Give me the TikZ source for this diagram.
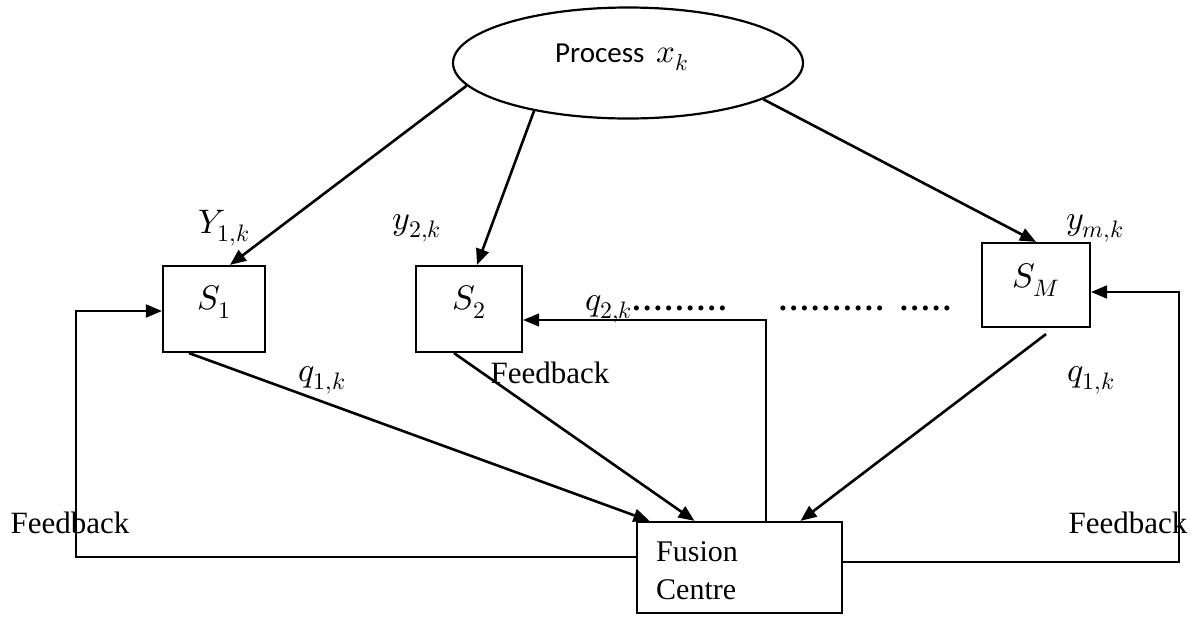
\documentclass[tikz,border=0pt]{standalone}
\usepackage{fontspec}
\usepackage{unicode-math}
\setmainfont{Liberation Serif}
\setmathfont{Latin Modern Math}
\newfontfamily\carlito{Carlito}
\usetikzlibrary{shapes.geometric,arrows.meta,calc}
\newcommand{\pd}{\textbf{.}\kern3pt}
\begin{document}
\begin{tikzpicture}[x=1pt,y=-1pt,
  arr/.style={-{Triangle[length=16pt,width=13pt]}, line width=2.6pt},
  fb/.style={-{Triangle[length=16pt,width=13pt]}, line width=2pt},
  box/.style={draw, line width=2.2pt, inner sep=0pt},
  lbl/.style={font=\fontsize{31}{34}\selectfont, inner sep=0pt},
  mlbl/.style={font=\fontsize{34}{36}\selectfont, inner sep=0pt}]
\useasboundingbox (0,0) rectangle (1195,619);
% nodes
\node[ellipse, draw, line width=2.2pt, minimum width=350pt, minimum height=111pt, inner sep=0pt] (proc) at (628,63) {};
\node[font=\carlito\fontsize{29}{31}\selectfont, inner sep=0pt, anchor=west] (ptxt) at (555,57) {Process\hspace{12pt}{\fontsize{33}{35}\selectfont$x_k$}};
\node[box, minimum width=102pt, minimum height=86pt] (s1) at (214,309) {};
\node[box, minimum width=106pt, minimum height=86pt] (s2) at (469,309) {};
\node[box, minimum width=108pt, minimum height=84pt] (sm) at (1036,285) {};
\node[box, minimum width=205pt, minimum height=91pt] (fus) at (739.5,567.5) {};
\node[mlbl] (s1t) at (214,302) {$S_1$};
\node[mlbl] (s2t) at (469,302) {$S_2$};
\node[mlbl] (smt) at (1036,280) {$S_M$};
\node[lbl, align=left, anchor=west, font=\fontsize{30}{38}\selectfont] (fust) at (656,571) {Fusion\\Centre};
% sensor arrows
\draw[arr] (proc.188) -- ([xshift=16pt]s1.north);
\draw[arr] (proc.207) -- ([xshift=8pt]s2.north);
\draw[arr] (proc.-15) -- (sm.north);
\draw[arr] ([xshift=-25pt]s1.south) -- ([xshift=-90pt]fus.north);
\draw[arr] ([xshift=-15pt]s2.south) -- ([xshift=-45pt]fus.north);
\draw[arr] ([xshift=10pt,yshift=-6pt]sm.south) -- ([xshift=61pt]fus.north);
% feedback lines
\coordinate (cl) at (76,311);
\coordinate (cr) at (1179,292);
\coordinate (cm) at (766,320);
\draw[fb] ([yshift=10.5pt]fus.west) -| (cl) -- (cl -| s1.west);
\draw[fb] ([yshift=5.5pt]fus.east) -| (cr) -- (cr -| sm.east);
\draw[fb, line width=1.4pt] (cm |- fus.north) -- (cm) -- (cm -| s2.east);
% labels
\node[mlbl] (ly1) at (224,228) {$Y_{1,k}$};
\node[mlbl] (ly2) at (417,228) {$y_{2,k}$};
\node[mlbl] (lym) at (1095,228) {$y_{m,k}$};
\node[mlbl] (lq1) at (322,380) {$q_{1,k}$};
\node[mlbl] (lqm) at (1091,380) {$q_{1,k}$};
\node[mlbl, anchor=base west] (lq2) at (585,310) {$q_{2,k}$};
\node[lbl, anchor=base west] (d1) at (lq2.base east) {\pd\pd\pd\pd\pd\pd\pd\pd\pd};
\node[lbl, anchor=base west] (d2) at (779,310) {\pd\pd\pd\pd\pd\pd\pd\pd\pd\pd};
\node[lbl, anchor=base west] (d3) at (900,310) {\pd\pd\pd\pd\pd};
\node[lbl] (fbm) at (550,373) {Feedback};
\node[lbl] (fbl) at (70,523) {Feedback};
\node[lbl] (fbr) at (1128,523) {Feedback};
\end{tikzpicture}
\end{document}
